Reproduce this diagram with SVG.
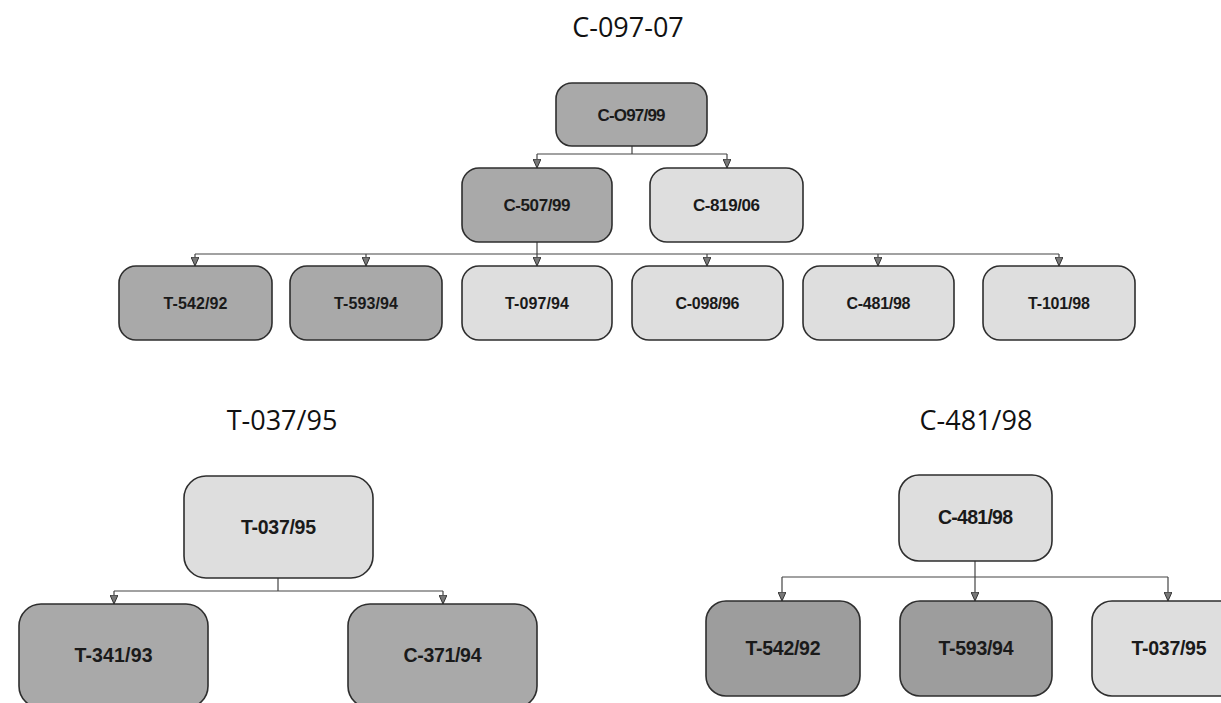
<svg xmlns="http://www.w3.org/2000/svg" width="1221" height="703" viewBox="0 0 1221 703">
<defs>
<marker id="arr" viewBox="0 0 9 8" refX="9" refY="4" markerWidth="9" markerHeight="8" markerUnits="userSpaceOnUse" orient="auto">
<path d="M0,0 L9,4 L0,8 Z" fill="#777" stroke="#333" stroke-width="1"/>
</marker>
</defs>
<style>
.title{font-family:"Open Sans","Noto Sans",sans-serif;font-size:27px;fill:#111;text-anchor:middle}
.dark{fill:#a9a9a9;stroke:#2e2e2e;stroke-width:1.6}
.darker{fill:#9d9d9d;stroke:#2e2e2e;stroke-width:1.6}
.light{fill:#dedede;stroke:#2e2e2e;stroke-width:1.6}
.t{font-family:"Liberation Sans",Arial,sans-serif;font-weight:bold;fill:#1a1a1a;text-anchor:middle}
.s{font-size:16px}
.m{font-size:17px}
.l{font-size:19.5px}
.c{fill:none;stroke:#444;stroke-width:1.2}
</style>
<rect width="1221" height="703" fill="#ffffff"/>
<text class="title" x="628" y="37">C-097-07</text>
<text class="title" x="282" y="430">T-037/95</text>
<text class="title" x="976" y="430">C-481/98</text>

<g id="connectors">
<path class="c" d="M632 146 V154 M537 154 H727"/>
<path class="c" d="M537 154 V168" marker-end="url(#arr)"/>
<path class="c" d="M727 154 V168" marker-end="url(#arr)"/>
<path class="c" d="M537 242 V254 M195 254 H1059"/>
<path class="c" d="M195 254 V266" marker-end="url(#arr)"/>
<path class="c" d="M366 254 V266" marker-end="url(#arr)"/>
<path class="c" d="M537 254 V266" marker-end="url(#arr)"/>
<path class="c" d="M707 254 V266" marker-end="url(#arr)"/>
<path class="c" d="M878 254 V266" marker-end="url(#arr)"/>
<path class="c" d="M1059 254 V266" marker-end="url(#arr)"/>
<path class="c" d="M278 578 V591 M114 591 H443"/>
<path class="c" d="M114 591 V604" marker-end="url(#arr)"/>
<path class="c" d="M443 591 V604" marker-end="url(#arr)"/>
<path class="c" d="M782 577 H1168"/>
<path class="c" d="M975 561 V601" marker-end="url(#arr)"/>
<path class="c" d="M782 577 V601" marker-end="url(#arr)"/>
<path class="c" d="M1168 577 V601" marker-end="url(#arr)"/>
</g>

<g id="n-c09799"><rect class="dark" x="556" y="83" width="151" height="63" rx="16"/><text class="t m" x="631.5" y="121" textLength="68">C-O97/99</text></g>
<g id="n-c50799"><rect class="dark" x="462" y="168" width="150" height="74" rx="17"/><text class="t m" x="537" y="211" textLength="67">C-507/99</text></g>
<g id="n-c81906"><rect class="light" x="650" y="168" width="153" height="74" rx="17"/><text class="t m" x="726.5" y="211" textLength="67">C-819/06</text></g>

<g id="n-t54292"><rect class="dark" x="119" y="266" width="153" height="74" rx="17"/><text class="t s" x="195.5" y="309" textLength="64">T-542/92</text></g>
<g id="n-t59394"><rect class="dark" x="290" y="266" width="152" height="74" rx="17"/><text class="t s" x="366" y="309" textLength="64">T-593/94</text></g>
<g id="n-t09794"><rect class="light" x="462" y="266" width="150" height="74" rx="17"/><text class="t s" x="537" y="309" textLength="64">T-097/94</text></g>
<g id="n-c09896"><rect class="light" x="632" y="266" width="151" height="74" rx="17"/><text class="t s" x="707.5" y="309" textLength="64">C-098/96</text></g>
<g id="n-c48198"><rect class="light" x="803" y="266" width="151" height="74" rx="17"/><text class="t s" x="878.5" y="309" textLength="64">C-481/98</text></g>
<g id="n-t10198"><rect class="light" x="983" y="266" width="152" height="74" rx="17"/><text class="t s" x="1059" y="309" textLength="62">T-101/98</text></g>

<g id="n-t03795-a"><rect class="light" x="184" y="476" width="189" height="102" rx="22"/><text class="t l" x="278.5" y="534" textLength="75">T-037/95</text></g>
<g id="n-t34193"><rect class="dark" x="19" y="604" width="189" height="104" rx="22"/><text class="t l" x="113.5" y="662" textLength="78">T-341/93</text></g>
<g id="n-c37194"><rect class="dark" x="348" y="604" width="189" height="104" rx="22"/><text class="t l" x="442.5" y="662" textLength="78">C-371/94</text></g>

<g id="n-c48198-b"><rect class="light" x="899" y="475" width="153" height="86" rx="20"/><text class="t l" x="975.5" y="524" textLength="75">C-481/98</text></g>
<g id="n-t54292-b"><rect class="darker" x="706" y="601" width="154" height="95" rx="20"/><text class="t l" x="783" y="655" textLength="75">T-542/92</text></g>
<g id="n-t59394-b"><rect class="darker" x="900" y="601" width="152" height="95" rx="20"/><text class="t l" x="976" y="655" textLength="75">T-593/94</text></g>
<g id="n-t03795-b"><rect class="light" x="1092" y="601" width="154" height="95" rx="20"/><text class="t l" x="1169" y="655" textLength="75">T-037/95</text></g>
</svg>
